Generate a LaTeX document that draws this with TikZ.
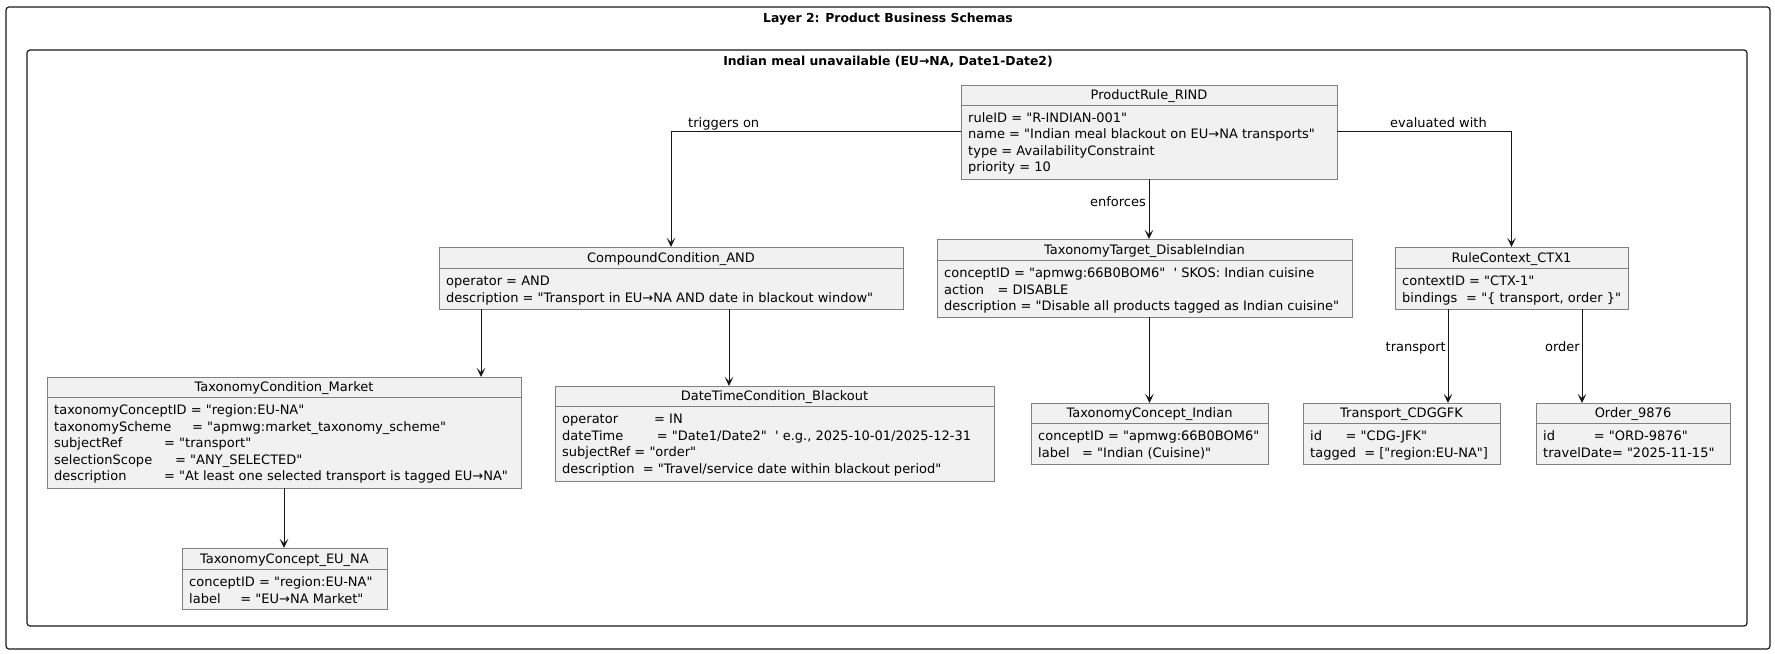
\documentclass[tikz,border=0pt]{standalone}
\usepackage{fontspec}
\setmainfont{DejaVu Sans}[Ligatures=TeXOff]
\usetikzlibrary{arrows.meta}
\definecolor{boxfill}{HTML}{F1F1F1}
\definecolor{boxline}{HTML}{808080}
\definecolor{ink}{HTML}{181818}
\newcommand\kv[2]{\makebox[#1bp][l]{#2}}
\newcommand\objbox[7]{%
  \node[objrect, minimum width={(#3-#2)*1bp}, minimum height={(#6-#4)*1bp}] (#1) at ({(#2+#3)/2},{(#4+#6)/2}) {};
  \draw[objline] (#2,#5) -- (#3,#5);
  \node[titletext] (#1-title) at ({(#2+#3)/2},{(#4+#5)/2+4.7}) {#7};
}
\newcommand\objbody[4]{%
  \node[bodytext] (#1-body) at ({#2+7},{#3+17.5}) {\begin{tabular}[t]{@{}l@{}}#4\end{tabular}};
}
\tikzset{
  objrect/.style={rectangle, draw=boxline, fill=boxfill, line width=0.9bp, inner sep=0pt, outer sep=0pt},
  objline/.style={draw=boxline, line width=0.9bp},
  bodytext/.style={anchor=base west, inner sep=0pt, font=\fontsize{13bp}{16.5bp}\selectfont},
  titletext/.style={anchor=base, inner sep=0pt, font=\fontsize{13bp}{16.5bp}\selectfont},
  lbl/.style={inner sep=0pt, font=\fontsize{13bp}{16.5bp}\selectfont},
  frameline/.style={rectangle, draw=ink, line width=1.2bp, rounded corners=3bp, inner sep=0pt, outer sep=0pt},
  frametitle/.style={anchor=base, inner sep=0pt, font=\bfseries\fontsize{12.4bp}{15bp}\selectfont},
  arr/.style={draw=ink, line width=1bp, -{Stealth[length=9bp,width=8.5bp,inset=4bp]}},
}
\begin{document}
\begin{tikzpicture}[x=1bp, y=-1bp]
\useasboundingbox (0,0) rectangle (1775,654);
% frames
\node[frameline, minimum width=1764bp, minimum height=642bp] (outer) at (888,328) {};
\node[frameline, minimum width=1720bp, minimum height=576bp] (inner) at (887,338) {};
\node[frametitle] (t-outer) at (888,22.5) {Layer 2: Product Business Schemas};
\node[frametitle] (t-inner) at (888,65.5) {Indian meal unavailable (EU→NA, Date1-Date2)};
% boxes
\objbox{PR}{961}{1337}{85}{105}{179}{ProductRule\_RIND}
\objbody{PR}{961}{105}{ruleID = "R-INDIAN-001"\\
name = "Indian meal blackout on EU→NA transports"\\
type = AvailabilityConstraint\\
priority = 10}
\objbox{TT}{937}{1352}{239}{260}{317}{TaxonomyTarget\_DisableIndian}
\objbody{TT}{937}{260}{conceptID = "apmwg:66B0BOM6"\ \ ' SKOS: Indian cuisine\\
\kv{53.5}{action}= DISABLE\\
description = "Disable all products tagged as Indian cuisine"}
\objbox{RC}{1395}{1628}{247}{268}{309}{RuleContext\_CTX1}
\objbody{RC}{1395}{268}{contextID = "CTX-1"\\
\kv{64}{bindings}= "\{ transport, order \}"}
\objbox{CC}{439}{903}{247}{268}{309}{CompoundCondition\_AND}
\objbody{CC}{439}{268}{operator = AND\\
description = "Transport in EU→NA AND date in blackout window"}
\objbox{TM}{47}{521}{377}{397}{488}{TaxonomyCondition\_Market}
\objbody{TM}{47}{397}{taxonomyConceptID = "region:EU-NA"\\
\kv{138}{taxonomyScheme}= "apmwg:market\_taxonomy\_scheme"\\
\kv{110}{subjectRef}= "transport"\\
\kv{121}{selectionScope}= "ANY\_SELECTED"\\
\kv{110}{description}= "At least one selected transport is tagged EU→NA"}
\objbox{DT}{555}{994}{386}{406}{481}{DateTimeCondition\_Blackout}
\objbody{DT}{555}{406}{\kv{92}{operator}= IN\\
\kv{94.6}{dateTime}= "Date1/Date2"\ \ ' e.g., 2025-10-01/2025-12-31\\
subjectRef = "order"\\
description\ \ = "Travel/service date within blackout period"}
\objbox{EU}{182}{387}{548}{569}{609}{TaxonomyConcept\_EU\_NA}
\objbody{EU}{182}{569}{conceptID = "region:EU-NA"\\
\kv{51.2}{label}= "EU→NA Market"}
\objbox{TI}{1031}{1268}{403}{423}{464}{TaxonomyConcept\_Indian}
\objbody{TI}{1031}{423}{conceptID = "apmwg:66B0BOM6"\\
\kv{44}{label}= "Indian (Cuisine)"}
\objbox{TR}{1303}{1500}{403}{423}{464}{Transport\_CDGGFK}
\objbody{TR}{1303}{423}{\kv{35.5}{id}= "CDG-JFK"\\
\kv{54.1}{tagged}= ["region:EU-NA"]}
\objbox{OR}{1536}{1730}{403}{423}{464}{Order\_9876}
\objbody{OR}{1536}{423}{\kv{50.6}{id}= "ORD-9876"\\
travelDate= "2025-11-15"}
% connector x positions
\coordinate (xTM) at (481,0);
\coordinate (xDT) at (729,0);
\coordinate (xTR) at (1448,0);
\coordinate (xOR) at (1582,0);
% connectors
\draw[arr] (PR.west) -| (CC.north);
\draw[arr] (PR.east) -| (RC.north);
\draw[arr] (PR.south) -- (PR.south |- TT.north);
\draw[arr] (TI.north |- TT.south) -- (TI.north);
\draw[arr] (CC.south -| xTM) -- (TM.north -| xTM);
\draw[arr] (CC.south -| xDT) -- (DT.north -| xDT);
\draw[arr] (TM.south) -- (TM.south |- EU.north);
\draw[arr] (RC.south -| xTR) -- (TR.north -| xTR);
\draw[arr] (RC.south -| xOR) -- (OR.north -| xOR);
% labels
\node[lbl, anchor=base west] (l-trig) at (688,128) {triggers on};
\node[lbl, anchor=base west] (l-eval) at (1390,127.5) {evaluated with};
\node[lbl, anchor=base east] (l-enf) at (1146,206) {enforces};
\node[lbl, anchor=base east] (l-tr) at (1446,351.5) {transport};
\node[lbl, anchor=base east] (l-or) at (1580,351.5) {order};
\end{tikzpicture}
\end{document}
